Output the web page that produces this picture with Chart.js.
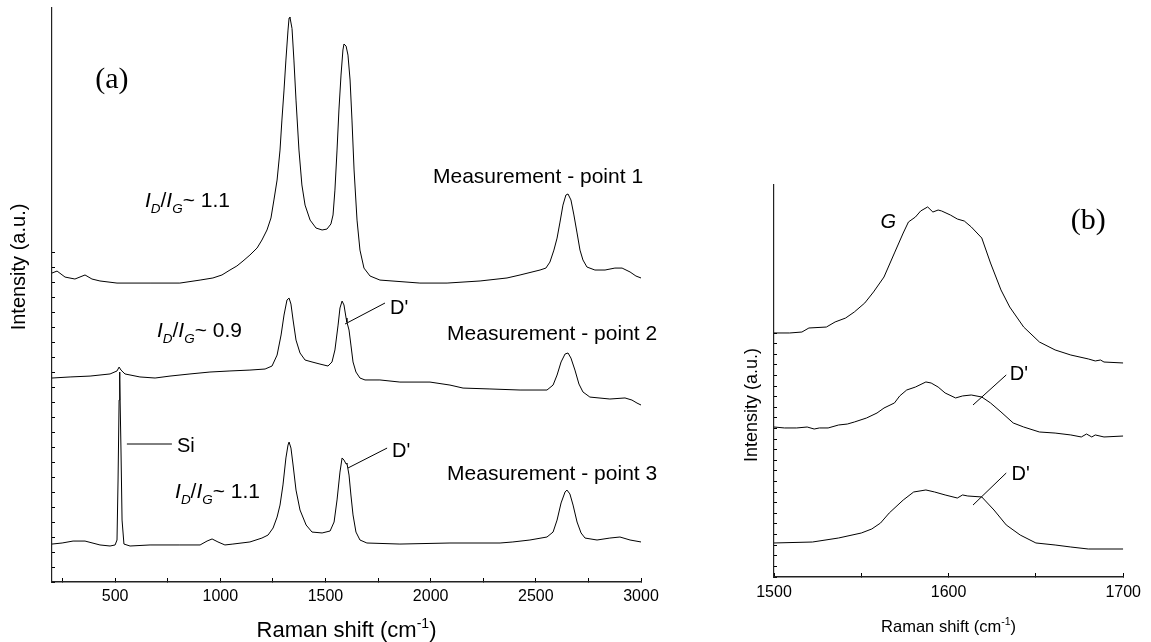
<!DOCTYPE html>
<html lang="en">
<head>
  <meta charset="UTF-8">
  <title>Raman spectra</title>
  <script src="https://cdn.jsdelivr.net/npm/chart.js"></script>
  <style>
    body { margin: 0; background: #fff; }
    canvas { position: absolute; top: 0; }
  </style>
</head>
<body>
  <canvas id="chartA" width="700" height="642" style="left:0"></canvas>
  <canvas id="chartB" width="451" height="642" style="left:700px"></canvas>

  <script>
    // ---- panel (a): full spectra, offset for the three measurement points ----
    const shiftA1 = [200, 224, 262, 309, 357, 390, 428, 509, 666, 808, 904, 965, 1008, 1046, 1079, 1108, 1141, 1175, 1198, 1222, 1241, 1255, 1270, 1284, 1293, 1303, 1312, 1322, 1327, 1331, 1341, 1350, 1360, 1374, 1388, 1403, 1427, 1455, 1484, 1507, 1526, 1536, 1545, 1555, 1564, 1574, 1583, 1588, 1598, 1607, 1617, 1626, 1636, 1650, 1664, 1683, 1712, 1759, 1949, 2078, 2235, 2363, 2425, 2520, 2548, 2567, 2586, 2601, 2615, 2629, 2643, 2653, 2667, 2681, 2696, 2710, 2724, 2743, 2781, 2829, 2876, 2910, 2948, 2976, 3000];
    const intA1 = [20.6, 20.73, 20.33, 20.2, 20.47, 20.2, 20.07, 19.93, 19.93, 19.93, 20.13, 20.27, 20.47, 20.8, 21.07, 21.4, 21.8, 22.27, 22.8, 23.47, 24.27, 25.47, 26.8, 28.8, 30.8, 32.8, 34.8, 36.8, 37.6, 37.67, 36.9, 34.8, 32.13, 28.8, 26.47, 25.13, 24.13, 23.6, 23.47, 23.53, 23.87, 24.47, 26.13, 28.8, 31.47, 33.8, 35.47, 35.87, 35.73, 35.13, 33.47, 30.8, 27.47, 24.13, 22.13, 20.93, 20.4, 20.13, 19.93, 19.93, 20.07, 20.27, 20.47, 20.8, 20.93, 21.33, 22.13, 22.93, 24.0, 25.13, 25.8, 25.87, 25.47, 24.47, 23.27, 22.13, 21.47, 21.0, 20.8, 20.8, 20.93, 20.93, 20.67, 20.4, 20.27];

    const shiftA2 = [200, 286, 381, 476, 509, 519, 528, 547, 618, 690, 761, 856, 951, 1046, 1141, 1213, 1246, 1270, 1289, 1303, 1317, 1327, 1336, 1346, 1360, 1379, 1403, 1436, 1474, 1512, 1531, 1545, 1560, 1569, 1579, 1588, 1598, 1602, 1612, 1621, 1631, 1645, 1664, 1688, 1759, 1854, 1997, 2092, 2154, 2282, 2425, 2553, 2582, 2601, 2620, 2639, 2653, 2667, 2686, 2705, 2724, 2757, 2852, 2924, 2957, 2981, 3000];
    const intA2 = [13.6, 13.67, 13.73, 13.87, 14.07, 14.33, 14.13, 13.87, 13.67, 13.6, 13.73, 13.87, 14.0, 14.07, 14.13, 14.2, 14.4, 15.13, 16.47, 17.8, 18.8, 18.93, 18.53, 17.47, 16.13, 15.27, 14.8, 14.67, 14.53, 14.4, 14.67, 15.47, 17.13, 18.27, 18.73, 18.47, 17.6, 17.33, 16.8, 15.8, 14.67, 14.0, 13.6, 13.47, 13.47, 13.33, 13.33, 13.13, 12.93, 12.87, 12.8, 12.8, 13.13, 13.8, 14.67, 15.2, 15.27, 14.93, 14.13, 13.2, 12.67, 12.33, 12.2, 12.27, 12.13, 11.93, 11.8];

    const shiftA3 = [200, 248, 300, 357, 428, 476, 500, 509, 514, 519, 521, 523, 528, 533, 542, 571, 666, 808, 904, 937, 961, 989, 1022, 1060, 1141, 1198, 1227, 1251, 1270, 1284, 1298, 1312, 1322, 1327, 1336, 1346, 1360, 1379, 1408, 1436, 1484, 1522, 1541, 1555, 1569, 1579, 1588, 1598, 1602, 1612, 1621, 1631, 1645, 1664, 1697, 1854, 2092, 2330, 2391, 2472, 2553, 2582, 2601, 2620, 2639, 2648, 2662, 2677, 2696, 2715, 2734, 2791, 2852, 2900, 2948, 3000];
    const intA3 = [2.53, 2.6, 2.73, 2.73, 2.47, 2.4, 2.47, 2.8, 6.8, 12.13, 14.0, 13.47, 8.8, 4.13, 2.53, 2.4, 2.47, 2.47, 2.47, 2.73, 2.87, 2.67, 2.47, 2.53, 2.67, 2.93, 3.13, 3.6, 4.33, 5.13, 6.47, 8.27, 9.13, 9.33, 8.93, 7.8, 6.13, 4.8, 3.8, 3.33, 3.27, 3.4, 4.0, 5.47, 7.33, 8.27, 8.13, 7.87, 7.93, 7.13, 5.8, 4.47, 3.33, 2.8, 2.6, 2.53, 2.6, 2.6, 2.67, 2.8, 3.0, 3.33, 4.13, 5.27, 6.0, 6.13, 5.87, 5.13, 4.0, 3.27, 2.93, 2.8, 2.93, 3.0, 2.8, 2.67];

    const ticksA = [250, 500, 750, 1000, 1250, 1500, 1750, 2000, 2250, 2500, 2750, 3000];
    const labelsA = [500, 1000, 1500, 2000, 2500, 3000];
    const yTicksA = [0, 1, 2, 3, 4, 5, 6, 7, 8, 9, 10, 11, 12, 13, 14, 15, 16, 17, 18, 19, 20, 21, 22];

    // ---- panel (b): zoom on the G band ----
    const shiftB1 = [1500, 1509, 1516, 1520, 1530, 1535, 1541, 1546, 1552, 1557, 1563, 1569, 1574, 1577, 1581, 1584, 1588, 1591, 1594, 1596, 1601, 1605, 1609, 1613, 1619, 1624, 1630, 1635, 1643, 1652, 1661, 1670, 1680, 1684, 1687, 1689, 1700];
    const intB1 = [23.02, 23.02, 23.11, 23.49, 23.58, 24.06, 24.43, 25.0, 25.85, 26.89, 28.3, 30.57, 32.45, 33.49, 33.96, 34.53, 34.91, 34.43, 34.62, 34.53, 34.15, 33.77, 33.58, 33.02, 31.98, 29.62, 27.08, 25.47, 23.58, 22.17, 21.42, 20.94, 20.57, 20.38, 20.47, 20.28, 20.19];

    const shiftB2 = [1500, 1506, 1513, 1519, 1523, 1526, 1531, 1537, 1542, 1546, 1553, 1559, 1563, 1569, 1572, 1576, 1581, 1587, 1590, 1594, 1598, 1604, 1608, 1613, 1619, 1624, 1630, 1637, 1643, 1652, 1661, 1670, 1676, 1679, 1682, 1684, 1689, 1700];
    const intB2 = [14.15, 14.06, 14.06, 14.15, 13.96, 14.06, 14.06, 14.34, 14.43, 14.62, 15.0, 15.47, 15.94, 16.42, 17.08, 17.64, 17.92, 18.4, 18.3, 17.92, 17.36, 16.89, 17.08, 17.17, 16.98, 16.42, 15.57, 14.53, 14.15, 13.68, 13.58, 13.4, 13.21, 13.49, 13.21, 13.4, 13.21, 13.3];

    const shiftB3 = [1500, 1522, 1537, 1550, 1556, 1561, 1566, 1574, 1580, 1587, 1592, 1598, 1605, 1608, 1611, 1619, 1626, 1633, 1641, 1650, 1661, 1670, 1680, 1700];
    const intB3 = [3.21, 3.3, 3.68, 4.15, 4.53, 5.09, 6.04, 7.26, 8.02, 8.21, 8.02, 7.74, 7.45, 7.74, 7.64, 7.55, 6.32, 4.91, 3.96, 3.21, 3.02, 2.83, 2.64, 2.64];

    const ticksB = [1500, 1550, 1600, 1650, 1700];
    const labelsB = [1500, 1600, 1700];
    const yTicksB = [0, 1, 2, 3, 4, 5, 6, 7, 8, 9, 10, 11, 12, 13, 14, 15, 16, 17, 18, 19, 20, 21, 22, 23];

    Chart.defaults.font.family = '"Liberation Sans", Arial, sans-serif';
    Chart.defaults.color = '#000';

    const SANS = '"Liberation Sans", Arial, sans-serif';
    const SERIF = '"Liberation Serif", "Times New Roman", serif';

    function series(xs, ys) {
      return {
        data: xs.map((x, i) => ({ x: x, y: ys[i] })),
        borderColor: '#000', borderWidth: 1, pointRadius: 0, fill: false, tension: 0
      };
    }

    // rich text: runs of {t, it, sub, sup}
    function runWidth(ctx, runs, size, family) {
      let w = 0;
      runs.forEach(r => {
        const s = (r.sub || r.sup) ? size * 0.64 : size;
        ctx.font = (r.it ? 'italic ' : '') + s + 'px ' + family;
        w += ctx.measureText(r.t).width;
      });
      return w;
    }
    function drawRuns(ctx, x, y, runs, size, family) {
      let cx = x;
      runs.forEach(r => {
        const s = (r.sub || r.sup) ? size * 0.64 : size;
        ctx.font = (r.it ? 'italic ' : '') + s + 'px ' + family;
        const dy = r.sub ? size * 0.28 : r.sup ? -size * 0.42 : 0;
        ctx.fillText(r.t, cx, y + dy);
        cx += ctx.measureText(r.t).width;
      });
    }

    const ratio = v => [{ t: 'I', it: true }, { t: 'D', it: true, sub: true }, { t: '/', }, { t: 'I', it: true }, { t: 'G', it: true, sub: true }, { t: '~ ' + v }];
    const ramanTitle = [{ t: 'Raman shift (cm' }, { t: '-1', sup: true }, { t: ')' }];

    // notes in data coords; align 'left' or 'center'
    const notesA = [
      { x: 485, y: 33.47, runs: [{ t: '(a)' }], size: 30, family: SERIF, align: 'center', mid: true },
      { x: 642, y: 25.0, runs: ratio('1.1'), size: 21 },
      { x: 699, y: 16.33, runs: ratio('0.9'), size: 21 },
      { x: 785, y: 5.6, runs: ratio('1.1'), size: 21 },
      { x: 2011, y: 26.6, runs: [{ t: 'Measurement - point 1' }], size: 21 },
      { x: 2078, y: 16.13, runs: [{ t: 'Measurement - point 2' }], size: 21 },
      { x: 2078, y: 6.8, runs: [{ t: 'Measurement - point 3' }], size: 21 },
      { x: 794, y: 8.67, runs: [{ t: 'Si' }], size: 20 },
      { x: 1807, y: 17.87, runs: [{ t: "D'" }], size: 20 },
      { x: 1816, y: 8.33, runs: [{ t: "D'" }], size: 20 }
    ];
    const leadersA = [
      [556, 9.2, 770, 9.2],
      [1593, 17.2, 1783, 18.6],
      [1607, 7.6, 1793, 8.93]
    ];
    const notesB = [
      { x: 1680, y: 33.58, runs: [{ t: '(b)' }], size: 30, family: SERIF, align: 'center', mid: true },
      { x: 1561, y: 32.92, runs: [{ t: 'G', it: true }], size: 20 },
      { x: 1635, y: 18.58, runs: [{ t: "D'" }], size: 20 },
      { x: 1636, y: 9.15, runs: [{ t: "D'" }], size: 20 }
    ];
    const leadersB = [
      [1614, 16.23, 1633, 19.06],
      [1614, 6.79, 1633, 9.81]
    ];

    function notesPlugin(notes, leaders, titles) {
      return {
        id: 'notes',
        afterDraw(chart) {
          const ctx = chart.ctx, xs = chart.scales.x, ys = chart.scales.y, area = chart.chartArea;
          ctx.save();
          ctx.fillStyle = '#000';
          ctx.strokeStyle = '#000';
          ctx.lineWidth = 1;
          leaders.forEach(l => {
            ctx.beginPath();
            ctx.moveTo(xs.getPixelForValue(l[0]), ys.getPixelForValue(l[1]));
            ctx.lineTo(xs.getPixelForValue(l[2]), ys.getPixelForValue(l[3]));
            ctx.stroke();
          });
          notes.forEach(n => {
            const fam = n.family || SANS;
            let px = xs.getPixelForValue(n.x), py = ys.getPixelForValue(n.y);
            ctx.textBaseline = n.mid ? 'middle' : 'alphabetic';
            ctx.textAlign = 'left';
            if (n.align === 'center') px -= runWidth(ctx, n.runs, n.size, fam) / 2;
            drawRuns(ctx, px, py, n.runs, n.size, fam);
          });
          // axis titles
          ctx.textBaseline = 'alphabetic';
          const w = runWidth(ctx, ramanTitle, titles.xSize, SANS);
          drawRuns(ctx, (area.left + area.right) / 2 - w / 2, titles.xBase, ramanTitle, titles.xSize, SANS);
          ctx.translate(titles.yX, titles.yMid);
          ctx.rotate(-Math.PI / 2);
          ctx.font = titles.ySize + 'px ' + SANS;
          ctx.textAlign = 'center';
          ctx.textBaseline = 'middle';
          ctx.fillText('Intensity (a.u.)', 0, 0);
          ctx.restore();
        }
      };
    }

    function makeChart(id, sets, xr, xTicks, xLabels, yMax, yTicks, fitW, fitH, pad, labelPad, plugin) {
      return new Chart(document.getElementById(id), {
        type: 'line',
        data: { datasets: sets },
        options: {
          responsive: false,
          animation: false,
          layout: { padding: pad },
          plugins: { legend: { display: false }, tooltip: { enabled: false } },
          scales: {
            x: {
              type: 'linear', min: xr[0], max: xr[1],
              afterBuildTicks: s => { s.ticks = xTicks.map(v => ({ value: v })); },
              afterFit: s => { s.height = fitH; },
              grid: { drawOnChartArea: false, tickLength: -4, color: '#000' },
              border: { display: true, color: '#222', width: 1.5 },
              ticks: {
                autoSkip: false, maxRotation: 0, padding: labelPad,
                font: { size: 16 }, color: '#000',
                callback: v => xLabels.includes(v) ? String(v) : ''
              }
            },
            y: {
              type: 'linear', min: 0, max: yMax,
              afterBuildTicks: s => { s.ticks = yTicks.map(v => ({ value: v })); },
              afterFit: s => { s.width = fitW; },
              grid: { drawOnChartArea: false, tickLength: -3, color: '#000' },
              border: { display: true, color: '#222', width: 1.2 },
              ticks: { display: false }
            }
          }
        },
        plugins: [plugin]
      });
    }

    makeChart('chartA',
      [series(shiftA1, intA1), series(shiftA2, intA2), series(shiftA3, intA3)],
      [200, 3000], ticksA, labelsA, 38.27, yTicksA,
      52, 60, { left: 0, right: 59, top: 8, bottom: 0 }, 9,
      notesPlugin(notesA, leadersA, { xSize: 22, xBase: 637, ySize: 20, yX: 19, yMid: 267 }));

    makeChart('chartB',
      [series(shiftB1, intB1), series(shiftB2, intB2), series(shiftB3, intB3)],
      [1500, 1700], ticksB, labelsB, 36.98, yTicksB,
      74, 65, { left: 0, right: 18, top: 185, bottom: 0 }, 10,
      notesPlugin(notesB, leadersB, { xSize: 16.5, xBase: 632, ySize: 18, yX: 52, yMid: 405 }));
  </script>
</body>
</html>
